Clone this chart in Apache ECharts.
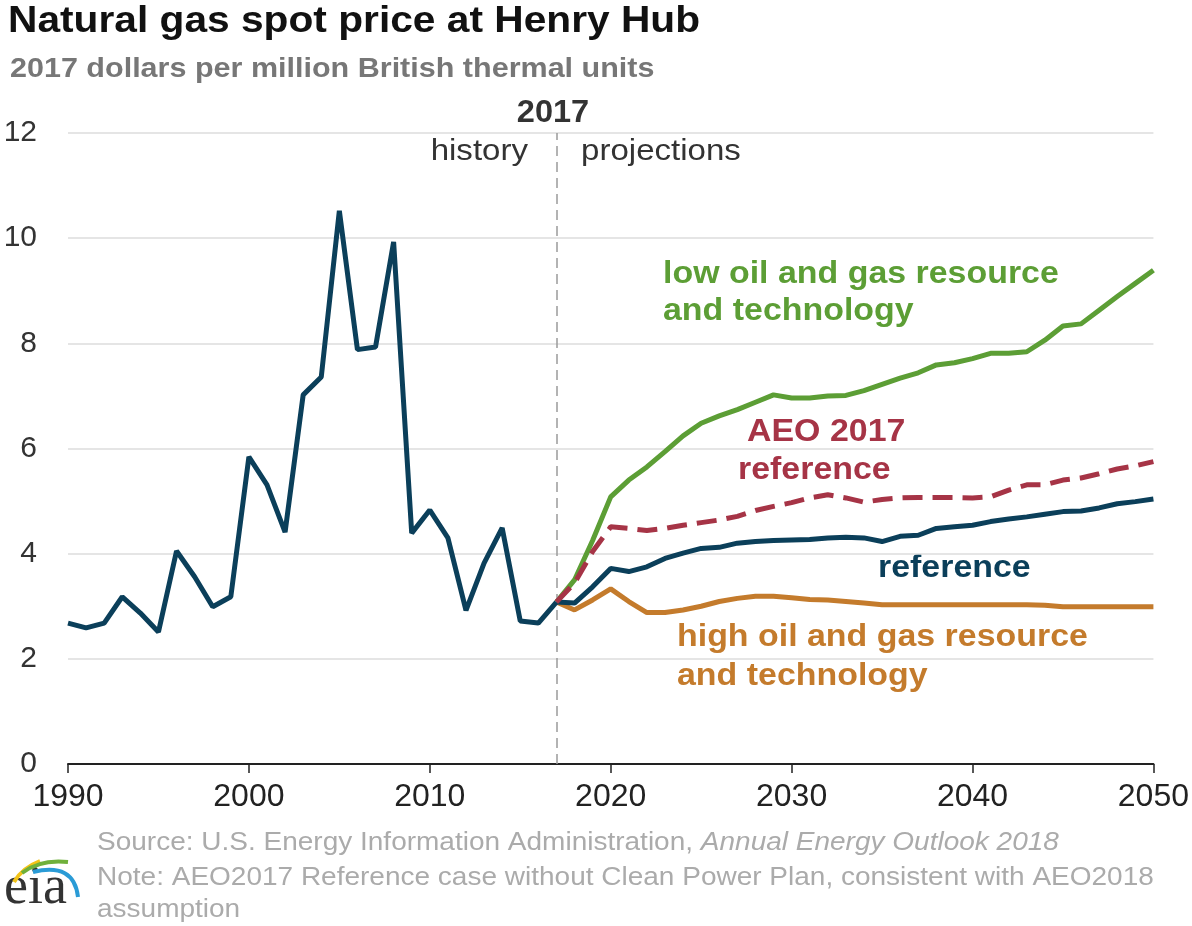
<!DOCTYPE html>
<html>
<head>
<meta charset="utf-8">
<script src="https://cdn.jsdelivr.net/npm/echarts@6/dist/echarts.min.js"></script>
<style>
html,body{margin:0;padding:0;background:#fff;}
#chart{width:1192px;height:926px;}
</style>
</head>
<body>
<div id="chart"></div>
<script>
const histYears = [1990,1991,1992,1993,1994,1995,1996,1997,1998,1999,2000,2001,2002,2003,2004,2005,2006,2007,2008,2009,2010,2011,2012,2013,2014,2015,2016,2017];
const histValues = [2.68,2.59,2.68,3.18,2.87,2.51,4.05,3.56,2.99,3.18,5.84,5.31,4.41,7.02,7.36,10.52,7.88,7.93,9.93,4.39,4.83,4.30,2.92,3.82,4.49,2.72,2.68,3.08];
const projYears = [2017,2018,2019,2020,2021,2022,2023,2024,2025,2026,2027,2028,2029,2030,2031,2032,2033,2034,2035,2036,2037,2038,2039,2040,2041,2042,2043,2044,2045,2046,2047,2048,2049,2050];
const referenceValues = [3.08,3.06,3.37,3.72,3.66,3.75,3.91,4.01,4.10,4.12,4.20,4.23,4.25,4.26,4.27,4.30,4.31,4.30,4.23,4.33,4.35,4.48,4.51,4.54,4.61,4.66,4.70,4.75,4.80,4.81,4.87,4.95,4.99,5.04];
const lowResourceValues = [3.08,3.50,4.25,5.08,5.40,5.65,5.94,6.24,6.48,6.62,6.74,6.88,7.02,6.96,6.96,7.00,7.01,7.10,7.22,7.34,7.44,7.59,7.63,7.71,7.81,7.81,7.84,8.06,8.33,8.37,8.63,8.89,9.14,9.39];
const aeo2017Values = [3.08,3.44,4.04,4.51,4.48,4.44,4.48,4.54,4.59,4.64,4.71,4.82,4.90,4.97,5.06,5.12,5.06,4.98,5.03,5.06,5.07,5.07,5.07,5.06,5.08,5.21,5.31,5.31,5.40,5.44,5.52,5.61,5.67,5.75];
const highResourceValues = [3.08,2.93,3.12,3.33,3.09,2.88,2.88,2.93,3.00,3.09,3.15,3.19,3.19,3.16,3.13,3.12,3.09,3.06,3.03,3.03,3.03,3.03,3.03,3.03,3.03,3.03,3.03,3.02,2.99,2.99,2.99,2.99,2.99,2.99];
const yTicks = [0,2,4,6,8,10,12];
const xTicks = [1990,2000,2010,2020,2030,2040,2050];
const dividerYear = 2017;

const pair = (xs, ys) => xs.map((x, i) => [x, ys[i]]);

const C_DARK = '#0b3f5a';
const C_GREEN = '#5c9e35';
const C_RED = '#a63446';
const C_ORANGE = '#c47b2c';
const C_NOTE = '#ababab';
const FONT = 'Liberation Sans, Arial, sans-serif';

const chart = echarts.init(document.getElementById('chart'), null, {renderer: 'canvas'});

// text placed by baseline, optionally stretched horizontally about its anchor
function T(x, baseline, text, size, color, weight, align, sx, fstyle, family) {
  return {
    type: 'text', x: x, y: baseline - 0.89 * size, scaleX: sx || 1, scaleY: 1,
    style: {
      text: text, x: 0, y: 0,
      font: (fstyle || 'normal') + ' ' + (weight || 'normal') + ' ' + size + 'px ' + (family || FONT),
      fill: color, textAlign: align || 'left', textVerticalAlign: 'top'
    }
  };
}

const ctx = document.createElement('canvas').getContext('2d');
ctx.font = 'normal normal 25px ' + FONT;
const NOTE_SX = 1.12;
const srcW = ctx.measureText('Source: U.S. Energy Information Administration, ').width * NOTE_SX;

const LBL = 32, LSX = 1.06;

const option = {
  backgroundColor: '#fff',
  animation: false,
  grid: {left: 68, right: 38, top: 133, bottom: 162},
  xAxis: {
    type: 'value', min: 1990, max: 2050, interval: 10,
    axisLine: {show: true, lineStyle: {color: '#222', width: 2}},
    axisTick: {show: true, length: 9, lineStyle: {color: '#222', width: 1.5}},
    axisLabel: {color: '#222', fontSize: 32, fontFamily: FONT, margin: 17,
      formatter: v => xTicks.includes(v) ? String(v) : ''},
    splitLine: {show: false}
  },
  yAxis: {
    type: 'value', min: 0, max: 12, interval: 2,
    axisLine: {show: false}, axisTick: {show: false},
    axisLabel: {color: '#333', fontSize: 30, fontFamily: FONT, margin: 31,
      formatter: v => yTicks.includes(v) ? String(v) : ''},
    splitLine: {show: true, lineStyle: {color: '#dcdcdc', width: 1.5}}
  },
  series: [
    {
      name: 'history', type: 'line', data: pair(histYears, histValues),
      showSymbol: false, lineStyle: {color: C_DARK, width: 5}, z: 5,
      markLine: {
        silent: true, symbol: 'none', label: {show: false},
        lineStyle: {color: '#9a9a9a', type: [10, 6], width: 1.5},
        data: [{xAxis: dividerYear}]
      }
    },
    {name: 'high oil and gas resource and technology', type: 'line', data: pair(projYears, highResourceValues),
      showSymbol: false, lineStyle: {color: C_ORANGE, width: 5}, z: 3},
    {name: 'low oil and gas resource and technology', type: 'line', data: pair(projYears, lowResourceValues),
      showSymbol: false, lineStyle: {color: C_GREEN, width: 5}, z: 3},
    {name: 'reference', type: 'line', data: pair(projYears, referenceValues),
      showSymbol: false, lineStyle: {color: C_DARK, width: 5}, z: 4},
    {name: 'AEO 2017 reference', type: 'line', data: pair(projYears, aeo2017Values),
      showSymbol: false, lineStyle: {color: C_RED, width: 5, type: [20, 10]}, z: 6}
  ],
  graphic: [
    T(8, 36, 'Natural gas spot price at Henry Hub', 37, '#111', 'bold', 'left', 1.10),
    T(10, 80, '2017 dollars per million British thermal units', 28, '#777', 'bold', 'left', 1.09),
    T(553, 126, '2017', 31, '#333', 'bold', 'center', 1.05),
    T(528, 163, 'history', 29, '#333', 'normal', 'right', 1.14),
    T(581, 163, 'projections', 29, '#333', 'normal', 'left', 1.14),
    T(663, 287, 'low oil and gas resource', LBL, C_GREEN, 'bold', 'left', LSX),
    T(663, 324, 'and technology', LBL, C_GREEN, 'bold', 'left', LSX),
    T(747, 445, 'AEO 2017', LBL, C_RED, 'bold', 'left', LSX),
    T(738, 483, 'reference', LBL, C_RED, 'bold', 'left', LSX),
    T(878, 581, 'reference', LBL, C_DARK, 'bold', 'left', LSX),
    T(677, 650, 'high oil and gas resource', LBL, C_ORANGE, 'bold', 'left', LSX),
    T(677, 689, 'and technology', LBL, C_ORANGE, 'bold', 'left', LSX),
    T(97, 853, 'Source: U.S. Energy Information Administration, ', 25, C_NOTE, 'normal', 'left', NOTE_SX),
    T(97 + srcW, 853, 'Annual Energy Outlook 2018', 25, C_NOTE, 'normal', 'left', NOTE_SX, 'italic'),
    T(97, 888, 'Note: AEO2017 Reference case without Clean Power Plan, consistent with AEO2018', 25, C_NOTE, 'normal', 'left', NOTE_SX),
    T(97, 920, 'assumption', 25, C_NOTE, 'normal', 'left', NOTE_SX),
    T(4, 910, 'eia', 54, '#333', 'normal', 'left', 1, 'normal', 'Liberation Serif, serif'),
    {type: 'bezierCurve', shape: {x1: 14, y1: 882, cpx1: 22, cpy1: 868, x2: 40, y2: 861}, style: {stroke: '#f2c318', lineWidth: 4, fill: null}},
    {type: 'bezierCurve', shape: {x1: 22, y1: 873, cpx1: 40, cpy1: 859, x2: 68, y2: 862}, style: {stroke: '#6fb03b', lineWidth: 4, fill: null}},
    {type: 'bezierCurve', shape: {x1: 33, y1: 872, cpx1: 74, cpy1: 862, x2: 78, y2: 897}, style: {stroke: '#2a9bd6', lineWidth: 4, fill: null}}
  ]
};
chart.setOption(option);
</script>
</body>
</html>
